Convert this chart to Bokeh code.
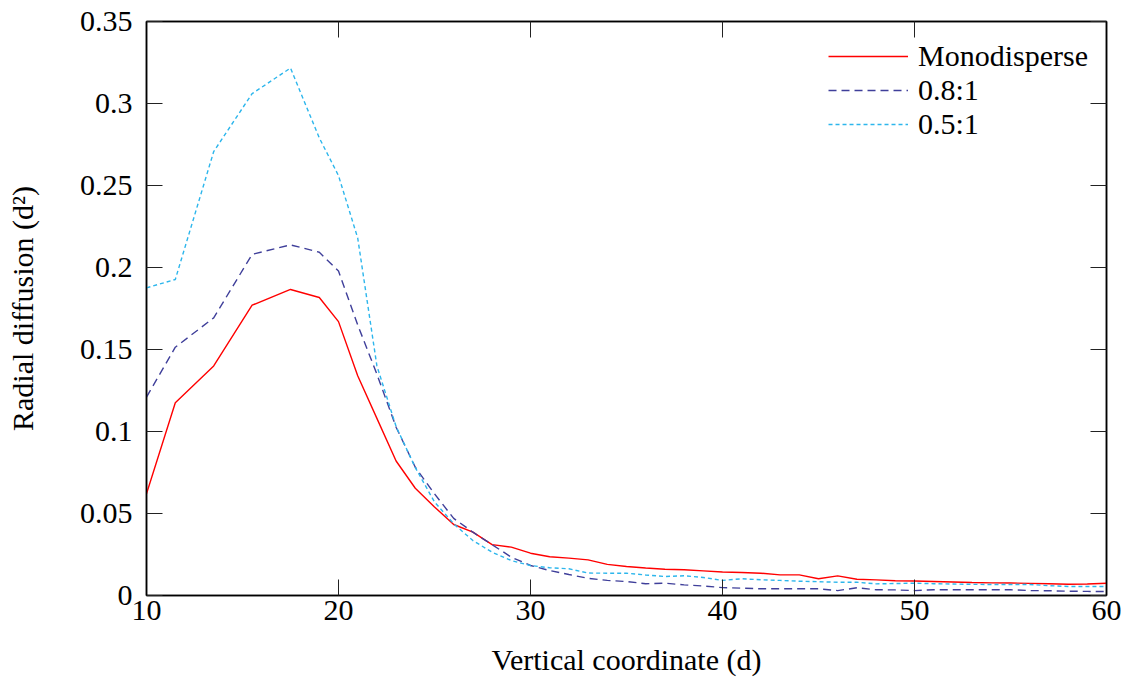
from bokeh.plotting import figure
from bokeh.models import LinearAxis, FixedTicker, Legend, LegendItem, Range1d, CustomJSTickFormatter
from bokeh.embed import file_html
from bokeh.resources import INLINE

# ---- data ----
x_vals = [10, 11.5, 13.5, 15.5, 17.5, 19, 20, 21, 22, 23, 24, 25, 26, 27, 28, 29, 30,
          31, 32, 33, 34, 35, 36, 37, 38, 39, 40, 41, 42, 43, 44, 45, 46, 47, 48, 49,
          50, 51, 52, 53, 54, 55, 56, 57, 58, 59, 60]

mono = [0.062, 0.1175, 0.140, 0.177, 0.1866, 0.1817, 0.167, 0.134, 0.108, 0.082,
        0.0654, 0.054, 0.0433, 0.0386, 0.031, 0.0295, 0.0258, 0.0236, 0.0228, 0.0217,
        0.019, 0.0177, 0.0168, 0.0160, 0.0157, 0.0150, 0.0143, 0.0140, 0.0136, 0.0126,
        0.0126, 0.0102, 0.0120, 0.0099, 0.0095, 0.0090, 0.0088, 0.0085, 0.0082, 0.0079,
        0.0077, 0.0076, 0.0074, 0.0072, 0.0069, 0.0070, 0.0075]

ratio_08 = [0.121, 0.1514, 0.1693, 0.208, 0.2138, 0.2093, 0.1978, 0.165, 0.135, 0.1026,
            0.0782, 0.062, 0.047, 0.0386, 0.031, 0.0234, 0.0183, 0.0152, 0.0128, 0.0105,
            0.0092, 0.0085, 0.0072, 0.0075, 0.0065, 0.0058, 0.0048, 0.0045, 0.0041, 0.0041,
            0.0041, 0.0041, 0.0030, 0.0047, 0.0035, 0.0034, 0.0030, 0.0035, 0.0035, 0.0035,
            0.0035, 0.0035, 0.0030, 0.0029, 0.0026, 0.0025, 0.0024]

ratio_05 = [0.1876, 0.1927, 0.2707, 0.306, 0.3216, 0.279, 0.256, 0.218, 0.140, 0.103,
            0.078, 0.057, 0.0437, 0.0335, 0.0264, 0.0213, 0.0183, 0.0169, 0.0163, 0.0137,
            0.0136, 0.0136, 0.0125, 0.0116, 0.0120, 0.0110, 0.0092, 0.0102, 0.0096, 0.0092,
            0.0087, 0.0084, 0.0081, 0.0081, 0.0071, 0.0073, 0.0075, 0.0072, 0.0070, 0.0068,
            0.0067, 0.0067, 0.0067, 0.0060, 0.0055, 0.0055, 0.0055]

series_names = ["Monodisperse", "0.8:1", "0.5:1"]

x_ticks = [10, 20, 30, 40, 50, 60]
y_ticks = [0, 0.05, 0.1, 0.15, 0.2, 0.25, 0.3, 0.35]
y_tick_labels = ["0", "0.05", "0.1", "0.15", "0.2", "0.25", "0.3", "0.35"]

x_label = "Vertical coordinate (d)"
y_label = "Radial diffusion (d\u00b2)"

# ---- styling ----
FONT = "Liberation Serif"
FS = "30px"
colors = ["#ff0000", "#3f3f9a", "#2db6ec"]
dashes = ["solid", "8 5", "4 3"]

p = figure(width=1130, height=685, output_backend="svg", toolbar_location=None,
           x_range=Range1d(10, 60), y_range=Range1d(0, 0.35),
           min_border_left=146, min_border_right=24, min_border_top=21, min_border_bottom=90)

p.xgrid.visible = False
p.ygrid.visible = False
p.outline_line_color = "black"
p.outline_line_width = 1.5
p.background_fill_color = "white"
p.border_fill_color = "white"

renderers = []
for ys, c, d in zip([mono, ratio_08, ratio_05], colors, dashes):
    r = p.line(x_vals, ys, line_color=c, line_width=1.4, line_dash=d)
    renderers.append(r)

# main axes
xa = p.xaxis[0]
ya = p.yaxis[0]
xa.ticker = FixedTicker(ticks=x_ticks)
ya.ticker = FixedTicker(ticks=y_ticks)
ya.major_label_overrides = {t: l for t, l in zip(y_ticks, y_tick_labels)}
for ax in (xa, ya):
    ax.major_tick_in = 16
    ax.major_tick_out = 0
    ax.minor_tick_line_color = None
    ax.major_tick_line_color = "#222222"
    ax.major_tick_line_width = 1
    ax.axis_line_color = "black"
    ax.axis_line_width = 1.5
    ax.major_label_text_font = FONT
    ax.major_label_text_font_size = FS
    ax.major_label_text_color = "black"
    ax.axis_label_text_font = FONT
    ax.axis_label_text_font_size = FS
    ax.axis_label_text_font_style = "normal"
    ax.axis_label_text_color = "black"
xa.axis_label = x_label
ya.axis_label = y_label
xa.major_label_standoff = 5
xa.axis_label_standoff = 20
ya.major_label_standoff = 14
ya.axis_label_standoff = 38

# mirrored ticks on top and right (no labels)
for loc, tk in (("above", x_ticks), ("right", y_ticks)):
    ax = LinearAxis(ticker=FixedTicker(ticks=tk),
                    formatter=CustomJSTickFormatter(code="return ''"))
    ax.major_tick_in = 16
    ax.major_tick_out = 0
    ax.minor_tick_line_color = None
    ax.major_tick_line_color = "#222222"
    ax.axis_line_color = "black"
    ax.axis_line_width = 1.5
    ax.major_label_standoff = 0
    p.add_layout(ax, loc)

legend = Legend(items=[LegendItem(label=n, renderers=[r]) for n, r in zip(series_names, renderers)],
                location="top_right")
legend.label_text_font = FONT
legend.label_text_font_size = FS
legend.label_text_color = "black"
legend.glyph_width = 80
legend.glyph_height = 30
legend.label_height = 30
legend.label_standoff = 10
legend.spacing = 0
legend.padding = 6
legend.margin = 12
legend.border_line_alpha = 0
legend.background_fill_alpha = 0
p.add_layout(legend)

open("out.html", "w").write(file_html(p, INLINE))
